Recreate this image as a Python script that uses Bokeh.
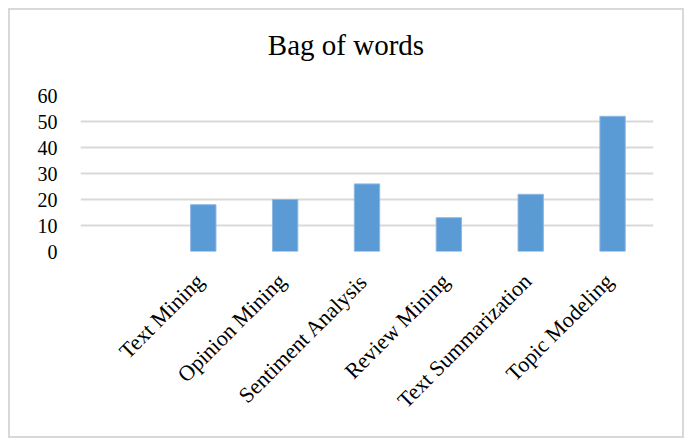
import math
from bokeh.plotting import figure
from bokeh.models import Range1d, FixedTicker, ColumnDataSource, LinearAxis, Div
from bokeh.layouts import column
from bokeh.embed import file_html
from bokeh.resources import INLINE

title_text = "Bag of words"
categories = ["Text Mining", "Opinion Mining", "Sentiment Analysis",
              "Review Mining", "Text Summarization", "Topic Modeling"]
values = [18, 20, 26, 13, 22, 52]
y_ticks = [0, 10, 20, 30, 40, 50, 60]

# the chart has an empty first category slot
factors = [" "] + categories
xpos = [factors.index(c) + 0.5 for c in categories]
src = ColumnDataSource(dict(x=xpos, val=values, cat=categories))

head = Div(text=('<div style="font-family:\'Liberation Serif\';font-size:29px;'
                 'line-height:34px;text-align:center;color:#000;padding-top:18px;'
                 'width:672px;">' + title_text + '</div>'),
           width=672, height=70, margin=(0, 0, 0, 0))

p = figure(width=672, height=356, output_backend="svg", toolbar_location=None,
           x_range=Range1d(0, len(factors)),
           y_range=Range1d(0, 60),
           x_axis_location=None, margin=(0, 0, 0, 0),
           min_border_left=70, min_border_right=29, min_border_top=15, min_border_bottom=185)

p.vbar(x="x", top="val", width=0.31, source=src, fill_color="#5b9bd5",
       line_color="#8fb8e3", line_width=1)

p.outline_line_color = None
p.xgrid.grid_line_color = None
p.ygrid.grid_line_color = "#d9d9d9"
p.ygrid.grid_line_width = 2
p.yaxis.ticker = FixedTicker(ticks=y_ticks)
p.yaxis.axis_line_color = None
p.yaxis.major_tick_line_color = None
p.yaxis.minor_tick_line_color = None
p.yaxis.major_label_text_font = "Liberation Serif"
p.yaxis.major_label_text_font_size = "20px"
p.yaxis.major_label_text_color = "#000000"
p.yaxis.major_label_standoff = 17

shift = 0.04
p.extra_x_ranges = {"lab": Range1d(shift, len(factors) + shift)}
lab_axis = LinearAxis(x_range_name="lab", ticker=FixedTicker(ticks=xpos),
                      major_label_overrides={t: c for t, c in zip(xpos, categories)})
lab_axis.axis_line_color = None
lab_axis.major_tick_line_color = None
lab_axis.minor_tick_line_color = None
lab_axis.major_label_orientation = math.pi / 4
lab_axis.major_label_text_font = "Liberation Serif"
lab_axis.major_label_text_font_size = "22px"
lab_axis.major_label_text_color = "#000000"
lab_axis.major_label_standoff = 20
p.add_layout(lab_axis, "below")

layout = column(head, p, spacing=0, margin=(0, 0, 0, 0))
layout.styles = {"border": "2px solid #d9d9d9", "margin-left": "8px", "margin-top": "8px",
                 "background-color": "#ffffff"}

open("out.html", "w").write(file_html(layout, INLINE))
